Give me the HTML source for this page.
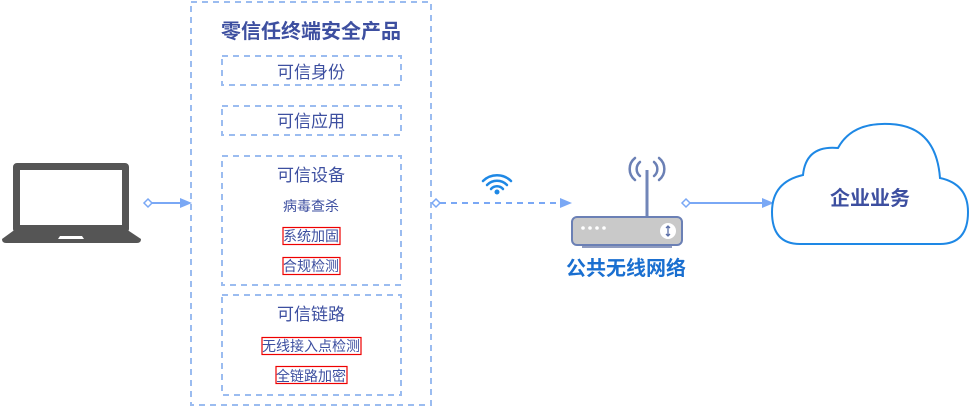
<!DOCTYPE html>
<html><head><meta charset="utf-8"><style>
body{margin:0;background:#fff;}
svg text{font-family:"Liberation Sans","Noto Sans CJK SC",sans-serif;}
</style></head><body>
<svg width="972" height="407" viewBox="0 0 972 407" xmlns="http://www.w3.org/2000/svg">
<g fill="none" stroke="#9bbcf0" stroke-width="2" stroke-dasharray="6,5">
<rect x="191" y="2" width="240" height="403"/>
<rect x="222" y="56" width="179" height="29"/>
<rect x="222" y="106" width="179" height="29"/>
<rect x="222" y="156" width="179" height="129"/>
<rect x="222" y="295" width="179" height="100"/>
</g>
<g fill="#3d4fa0" text-anchor="middle">
<text x="311" y="38" font-size="20" font-weight="bold">零信任终端安全产品</text>
<text x="311" y="78" font-size="17">可信身份</text>
<text x="311" y="127" font-size="17">可信应用</text>
<text x="311" y="181" font-size="17">可信设备</text>
<text x="311" y="211" font-size="14">病毒查杀</text>
<text x="311" y="241" font-size="14">系统加固</text>
<text x="311" y="271" font-size="14">合规检测</text>
<text x="311" y="320" font-size="17">可信链路</text>
<text x="311" y="351" font-size="14">无线接入点检测</text>
<text x="311" y="381" font-size="14">全链路加密</text>
</g>
<g fill="none" stroke="#e00" stroke-width="1.2">
<rect x="283" y="227.5" width="57" height="17"/>
<rect x="283" y="257.5" width="57" height="17"/>
<rect x="262" y="337.5" width="99" height="17"/>
<rect x="276" y="366.5" width="71" height="17"/>
</g>
<rect x="13" y="163" width="116" height="70" rx="4" fill="#555"/>
<rect x="20" y="170" width="102" height="55" fill="#fff"/>
<path d="M13 231 L129 231 L141 239 Q141 243 137 243 L6 243 Q2 243 2 239 Z" fill="#555"/>
<path d="M60 236 L82 236 L84 239 L58 239 Z" fill="#fff"/>
<g stroke="#7aa8f5" stroke-width="2" fill="none">
<line x1="152" y1="203" x2="182" y2="203"/>
<line x1="440" y1="203" x2="560" y2="203" stroke-dasharray="6,5"/>
<line x1="690" y1="203" x2="765" y2="203"/>
</g>
<g fill="#fff" stroke="#7aa8f5" stroke-width="1.5">
<path d="M148 199 L152 203 L148 207 L144 203 Z"/>
<path d="M436 199 L440 203 L436 207 L432 203 Z"/>
<path d="M686 199 L690 203 L686 207 L682 203 Z"/>
</g>
<g fill="#7aa8f5">
<path d="M180 198 L192 203 L180 208 Z"/>
<path d="M560 198 L572 203 L560 208 Z"/>
<path d="M762 198 L774 203 L762 208 Z"/>
</g>
<g fill="none" stroke="#1e88e5" stroke-width="2.5" stroke-linecap="round">
<path d="M483 181 A20 20 0 0 1 511 181"/>
<path d="M487 185 A14 14 0 0 1 507 185"/>
<path d="M491 189 A8 8 0 0 1 503 189"/>
</g>
<circle cx="497" cy="192" r="2.5" fill="#1e88e5"/>
<rect x="645.5" y="170" width="3" height="48" fill="#7186b8"/>
<g fill="none" stroke="#6b80b5" stroke-width="2.5" stroke-linecap="round">
<path d="M640 162 A9 9 0 0 0 640 176"/>
<path d="M635 158 A14 14 0 0 0 635 180"/>
<path d="M654 162 A9 9 0 0 1 654 176"/>
<path d="M659 158 A14 14 0 0 1 659 180"/>
</g>
<rect x="582" y="243" width="90" height="5" fill="#8f9bbf"/>
<rect x="572" y="217" width="110" height="28" rx="5" fill="#c9c9c9" stroke="#6b80b5" stroke-width="2"/>
<g fill="#fff"><circle cx="583" cy="228" r="1.8"/><circle cx="590" cy="228" r="1.8"/><circle cx="597" cy="228" r="1.8"/><circle cx="604" cy="228" r="1.8"/></g>
<circle cx="668" cy="231" r="8" fill="#fff"/>
<path d="M668 226 L668 236 M666 228 L668 226 L670 228 M666 234 L668 236 L670 234" stroke="#5b6fa8" stroke-width="1.3" fill="none"/>
<text x="626" y="275" font-size="20" font-weight="bold" fill="#1a6fd0" text-anchor="middle">公共无线网络</text>
<path d="M800 244 Q772 244 772 212 Q772 182 803 175 Q806 145 838 148 Q852 122 890 124 Q936 126 940 178 Q968 184 968 212 Q968 244 940 244 Z" fill="#fff" stroke="#1e88e5" stroke-width="2"/>
<text x="870" y="205" font-size="20" font-weight="bold" fill="#3d4fa0" text-anchor="middle">企业业务</text>
</svg>
</body></html>
